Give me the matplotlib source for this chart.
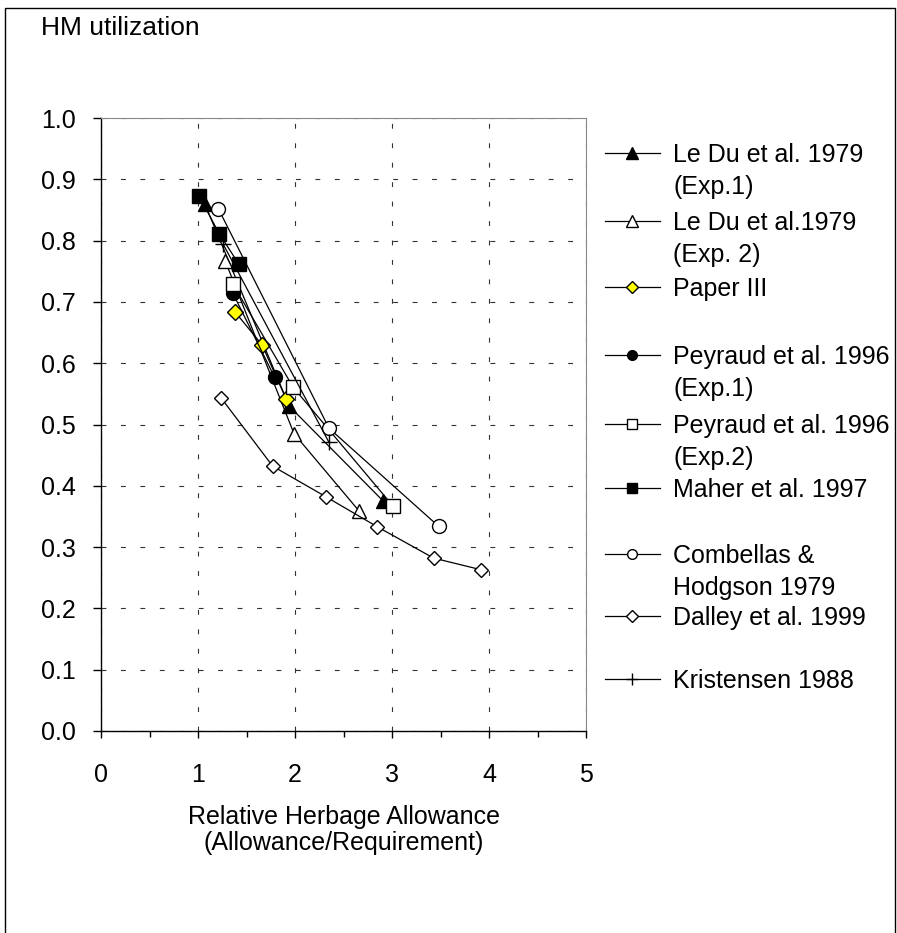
import matplotlib
matplotlib.use('Agg')
import matplotlib.pyplot as plt
from matplotlib.lines import Line2D
from matplotlib.patches import Rectangle
from matplotlib.ticker import MultipleLocator

plt.rcParams['font.family'] = ['Liberation Sans', 'DejaVu Sans']
plt.rcParams['lines.scale_dashes'] = False

# data
le_du1_x = [1.07, 1.94, 2.91]
le_du1_y = [0.86, 0.53, 0.375]
le_du2_x = [1.28, 1.99, 2.66]
le_du2_y = [0.767, 0.485, 0.359]
paper3_x = [1.38, 1.66, 1.91]
paper3_y = [0.684, 0.630, 0.541]
peyraud1_x = [1.36, 1.79]
peyraud1_y = [0.714, 0.577]
peyraud2_x = [1.36, 1.98, 3.01]
peyraud2_y = [0.729, 0.561, 0.367]
maher_x = [1.01, 1.22, 1.42]
maher_y = [0.873, 0.811, 0.762]
combellas_x = [1.21, 2.35, 3.48]
combellas_y = [0.852, 0.494, 0.334]
dalley_x = [1.24, 1.77, 2.32, 2.85, 3.43, 3.92]
dalley_y = [0.543, 0.432, 0.382, 0.333, 0.282, 0.263]
kristensen_x = [1.26, 2.35]
kristensen_y = [0.794, 0.471]

labels = [['Le Du et al. 1979', '(Exp.1)'],
          ['Le Du et al.1979', '(Exp. 2)'],
          ['Paper III'],
          ['Peyraud et al. 1996', '(Exp.1)'],
          ['Peyraud et al. 1996', '(Exp.2)'],
          ['Maher et al. 1997'],
          ['Combellas &', 'Hodgson 1979'],
          ['Dalley et al. 1999'],
          ['Kristensen 1988']]

series = [(le_du1_x, le_du1_y), (le_du2_x, le_du2_y), (paper3_x, paper3_y),
          (peyraud1_x, peyraud1_y), (peyraud2_x, peyraud2_y), (maher_x, maher_y),
          (combellas_x, combellas_y), (dalley_x, dalley_y), (kristensen_x, kristensen_y)]

# marker, face colour, size (plot), size (legend)
styles = [('^', 'black', 10.5, 8), ('^', 'white', 10.5, 8), ('D', '#ffff00', 8, 6.5),
          ('o', 'black', 10, 7), ('s', 'white', 9.8, 7), ('s', 'black', 9.8, 7),
          ('o', 'white', 10, 7), ('D', 'white', 7.5, 6), ('+', 'black', 12, 9)]

W, H = 897, 933
fig = plt.figure(figsize=(W / 100, H / 100), dpi=100)

# frame around the whole chart
fig.add_artist(Rectangle((5 / W, -0.01), 890 / W, 1 - 8 / H + 0.01, transform=fig.transFigure,
                         fill=False, edgecolor='black', linewidth=1.0))

left, right, top, bottom = 101, 586, 118, 731
ax = fig.add_axes([left / W, 1 - bottom / H, (right - left) / W, (bottom - top) / H])

for (xs, ys), (m, fc, ms, _) in zip(series, styles):
    ax.plot(xs, ys, color='black', linewidth=0.9, marker=m, markersize=ms,
            markerfacecolor=fc, markeredgecolor='black', markeredgewidth=1.0,
            clip_on=False)

ax.set_xlim(0, 5)
ax.set_ylim(0, 1.0)
ax.xaxis.set_major_locator(MultipleLocator(1))
ax.xaxis.set_minor_locator(MultipleLocator(0.5))
ax.set_yticks([i / 10 for i in range(11)])
ax.set_yticklabels(['%.1f' % (i / 10) for i in range(11)])
ax.tick_params(axis='y', direction='out', length=6, width=1, labelsize=18, pad=12)
ax.tick_params(axis='x', which='major', direction='out', length=5, width=1, labelsize=18, pad=18)
ax.tick_params(axis='x', which='minor', direction='out', length=4, width=1)

ax.grid(True, which='major', color='#333333', linewidth=0.8, dashes=(3.5, 10.5))
ax.set_axisbelow(True)
for s in ['top', 'right']:
    ax.spines[s].set_color('#888888')
    ax.spines[s].set_linewidth(0.8)
for s in ['left', 'bottom']:
    ax.spines[s].set_linewidth(1.0)

fig.text(41 / W, 1 - 35 / H, 'HM utilization', fontsize=19, va='baseline', ha='left')
fig.text((left + right) / 2 / W, 1 - 824 / H, 'Relative Herbage Allowance',
         fontsize=18, va='baseline', ha='center')
fig.text((left + right) / 2 / W, 1 - 850 / H, '(Allowance/Requirement)',
         fontsize=18, va='baseline', ha='center')

# legend drawn by hand so that handles sit on the first text line
leg_y = [153, 221, 287, 355, 424, 488, 554, 616, 679]
for lab, (m, fc, _, lms), y in zip(labels, styles, leg_y):
    fy = 1 - y / H
    fig.add_artist(Line2D([605 / W, 660 / W], [fy, fy], transform=fig.transFigure,
                          color='black', linewidth=0.9))
    fig.add_artist(Line2D([632 / W], [fy], transform=fig.transFigure, marker=m,
                          markersize=lms, markerfacecolor=fc, markeredgecolor='black',
                          markeredgewidth=1.0, linestyle='none'))
    for k, line in enumerate(lab):
        fig.text(673 / W, 1 - (y + 9 + 32 * k) / H, line, fontsize=18,
                 va='baseline', ha='left')

fig.savefig('out.png', dpi=100)
